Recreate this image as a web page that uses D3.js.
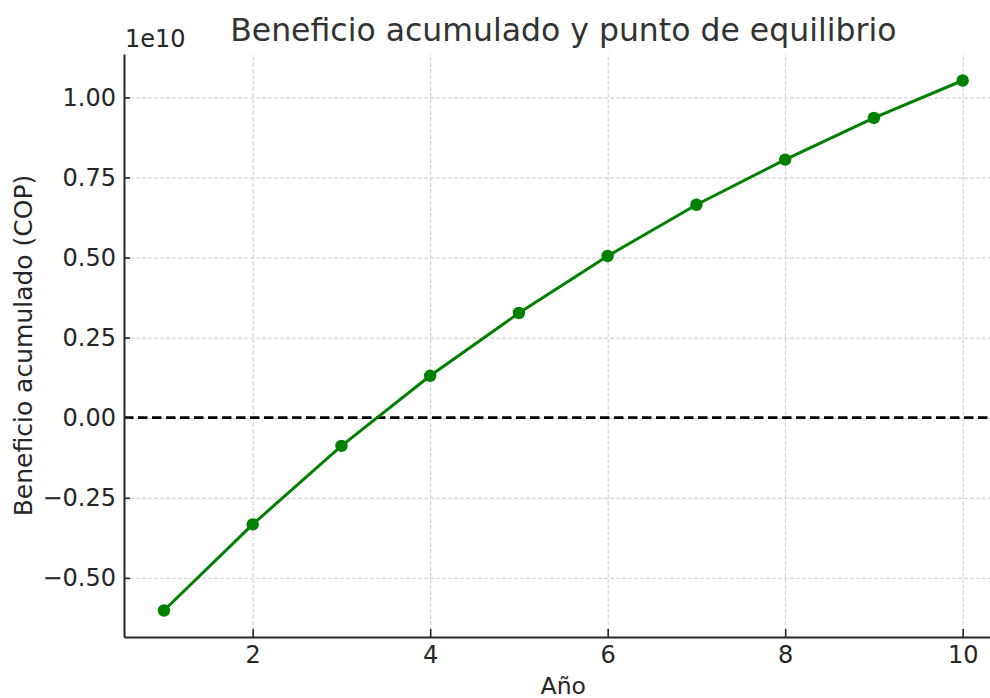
<!DOCTYPE html>
<html>
<head>
<meta charset="utf-8">
<script src="https://cdn.jsdelivr.net/npm/d3@7"></script>
<style>
  body { margin: 0; background: #fff; }
  svg { display: block; font-family: "DejaVu Sans", sans-serif; }
</style>
</head>
<body>
<div id="chart"></div>
<script>
// data
var years = [1, 2, 3, 4, 5, 6, 7, 8, 9, 10];
var beneficio = [-6.02e9, -3.33e9, -0.88e9, 1.31e9, 3.27e9, 5.05e9, 6.65e9, 8.06e9, 9.36e9, 10.53e9];
var xTicks = [2, 4, 6, 8, 10];
var yTicks = [-0.5e10, -0.25e10, 0, 0.25e10, 0.5e10, 0.75e10, 1e10];
var titleText = "Beneficio acumulado y punto de equilibrio";
var xLabel = "Año";
var yLabel = "Beneficio acumulado (COP)";
var offsetText = "1e10";

var W = 990, H = 698;
var margin = {top: 54, left: 124};
var width = 878.6, height = 583;

var svg = d3.select("#chart").append("svg")
    .attr("width", W)
    .attr("height", H)
    .style("overflow", "hidden");

var g = svg.append("g")
    .attr("transform", "translate(" + margin.left + "," + margin.top + ")");

// matplotlib style 5% margins
var xPad = (d3.max(years) - d3.min(years)) * 0.05;
var x = d3.scaleLinear()
    .domain([d3.min(years) - xPad, d3.max(years) + xPad])
    .range([0, width]);

var yPad = (d3.max(beneficio) - d3.min(beneficio)) * 0.05;
var y = d3.scaleLinear()
    .domain([d3.min(beneficio) - yPad, d3.max(beneficio) + yPad])
    .range([height, 0]);

// grid
g.append("g")
    .attr("class", "xgrid")
    .attr("transform", "translate(0," + height + ")")
    .call(d3.axisBottom(x).tickValues(xTicks).tickSize(-height).tickFormat(""))
    .call(function(s) {
      s.select(".domain").remove();
      s.selectAll(".tick line").attr("stroke", "#cccccc").attr("stroke-width", 1).attr("stroke-dasharray", "4,2");
    });

g.append("g")
    .attr("class", "ygrid")
    .call(d3.axisLeft(y).tickValues(yTicks).tickSize(-width).tickFormat(""))
    .call(function(s) {
      s.select(".domain").remove();
      s.selectAll(".tick line").attr("stroke", "#cccccc").attr("stroke-width", 1).attr("stroke-dasharray", "4,2");
    });

// break-even line
g.append("line")
    .attr("x1", 0)
    .attr("x2", width)
    .attr("y1", y(0))
    .attr("y2", y(0))
    .attr("stroke", "#000")
    .attr("stroke-width", 2.7)
    .attr("stroke-dasharray", "9.5,4.5");

// series
var line = d3.line()
    .x(function(d, i) { return x(years[i]); })
    .y(function(d) { return y(d); });

g.append("path")
    .datum(beneficio)
    .attr("fill", "none")
    .attr("stroke", "#008000")
    .attr("stroke-width", 3)
    .attr("d", line);

g.selectAll(".dot")
    .data(beneficio)
    .enter().append("circle")
    .attr("class", "dot")
    .attr("cx", function(d, i) { return x(years[i]); })
    .attr("cy", function(d) { return y(d); })
    .attr("r", 6.2)
    .attr("fill", "#008000");

// axes
var fmt = d3.format(".2f");
g.append("g")
    .attr("class", "xAxis")
    .attr("transform", "translate(0," + height + ")")
    .call(d3.axisBottom(x).tickValues(xTicks).tickSizeInner(-8).tickSizeOuter(0).tickPadding(9))
    .call(styleAxis);

g.append("g")
    .attr("class", "yAxis")
    .call(d3.axisLeft(y).tickValues(yTicks).tickSizeInner(-6).tickSizeOuter(0).tickPadding(8)
      .tickFormat(function(d) { return fmt(d / 1e10); }))
    .call(styleAxis);

function styleAxis(s) {
  s.attr("font-family", "DejaVu Sans").attr("font-size", 24);
  s.select(".domain").attr("stroke", "#262626").attr("stroke-width", 2);
  s.selectAll(".tick line").attr("stroke", "#262626").attr("stroke-width", 1.6);
  s.selectAll(".tick text").attr("fill", "#262626");
}

// texts
svg.append("text")
    .attr("x", margin.left + width / 2)
    .attr("y", 41)
    .attr("text-anchor", "middle")
    .attr("font-size", 31.5)
    .attr("fill", "#333333")
    .text(titleText);

svg.append("text")
    .attr("x", margin.left + 1)
    .attr("y", 47)
    .attr("font-size", 24)
    .attr("fill", "#262626")
    .text(offsetText);

svg.append("text")
    .attr("x", margin.left + width / 2)
    .attr("y", 694)
    .attr("text-anchor", "middle")
    .attr("font-size", 23.5)
    .attr("fill", "#262626")
    .text(xLabel);

svg.append("text")
    .attr("transform", "translate(32," + (margin.top + height / 2) + ") rotate(-90)")
    .attr("text-anchor", "middle")
    .attr("font-size", 25)
    .attr("fill", "#262626")
    .text(yLabel);
</script>
</body>
</html>
